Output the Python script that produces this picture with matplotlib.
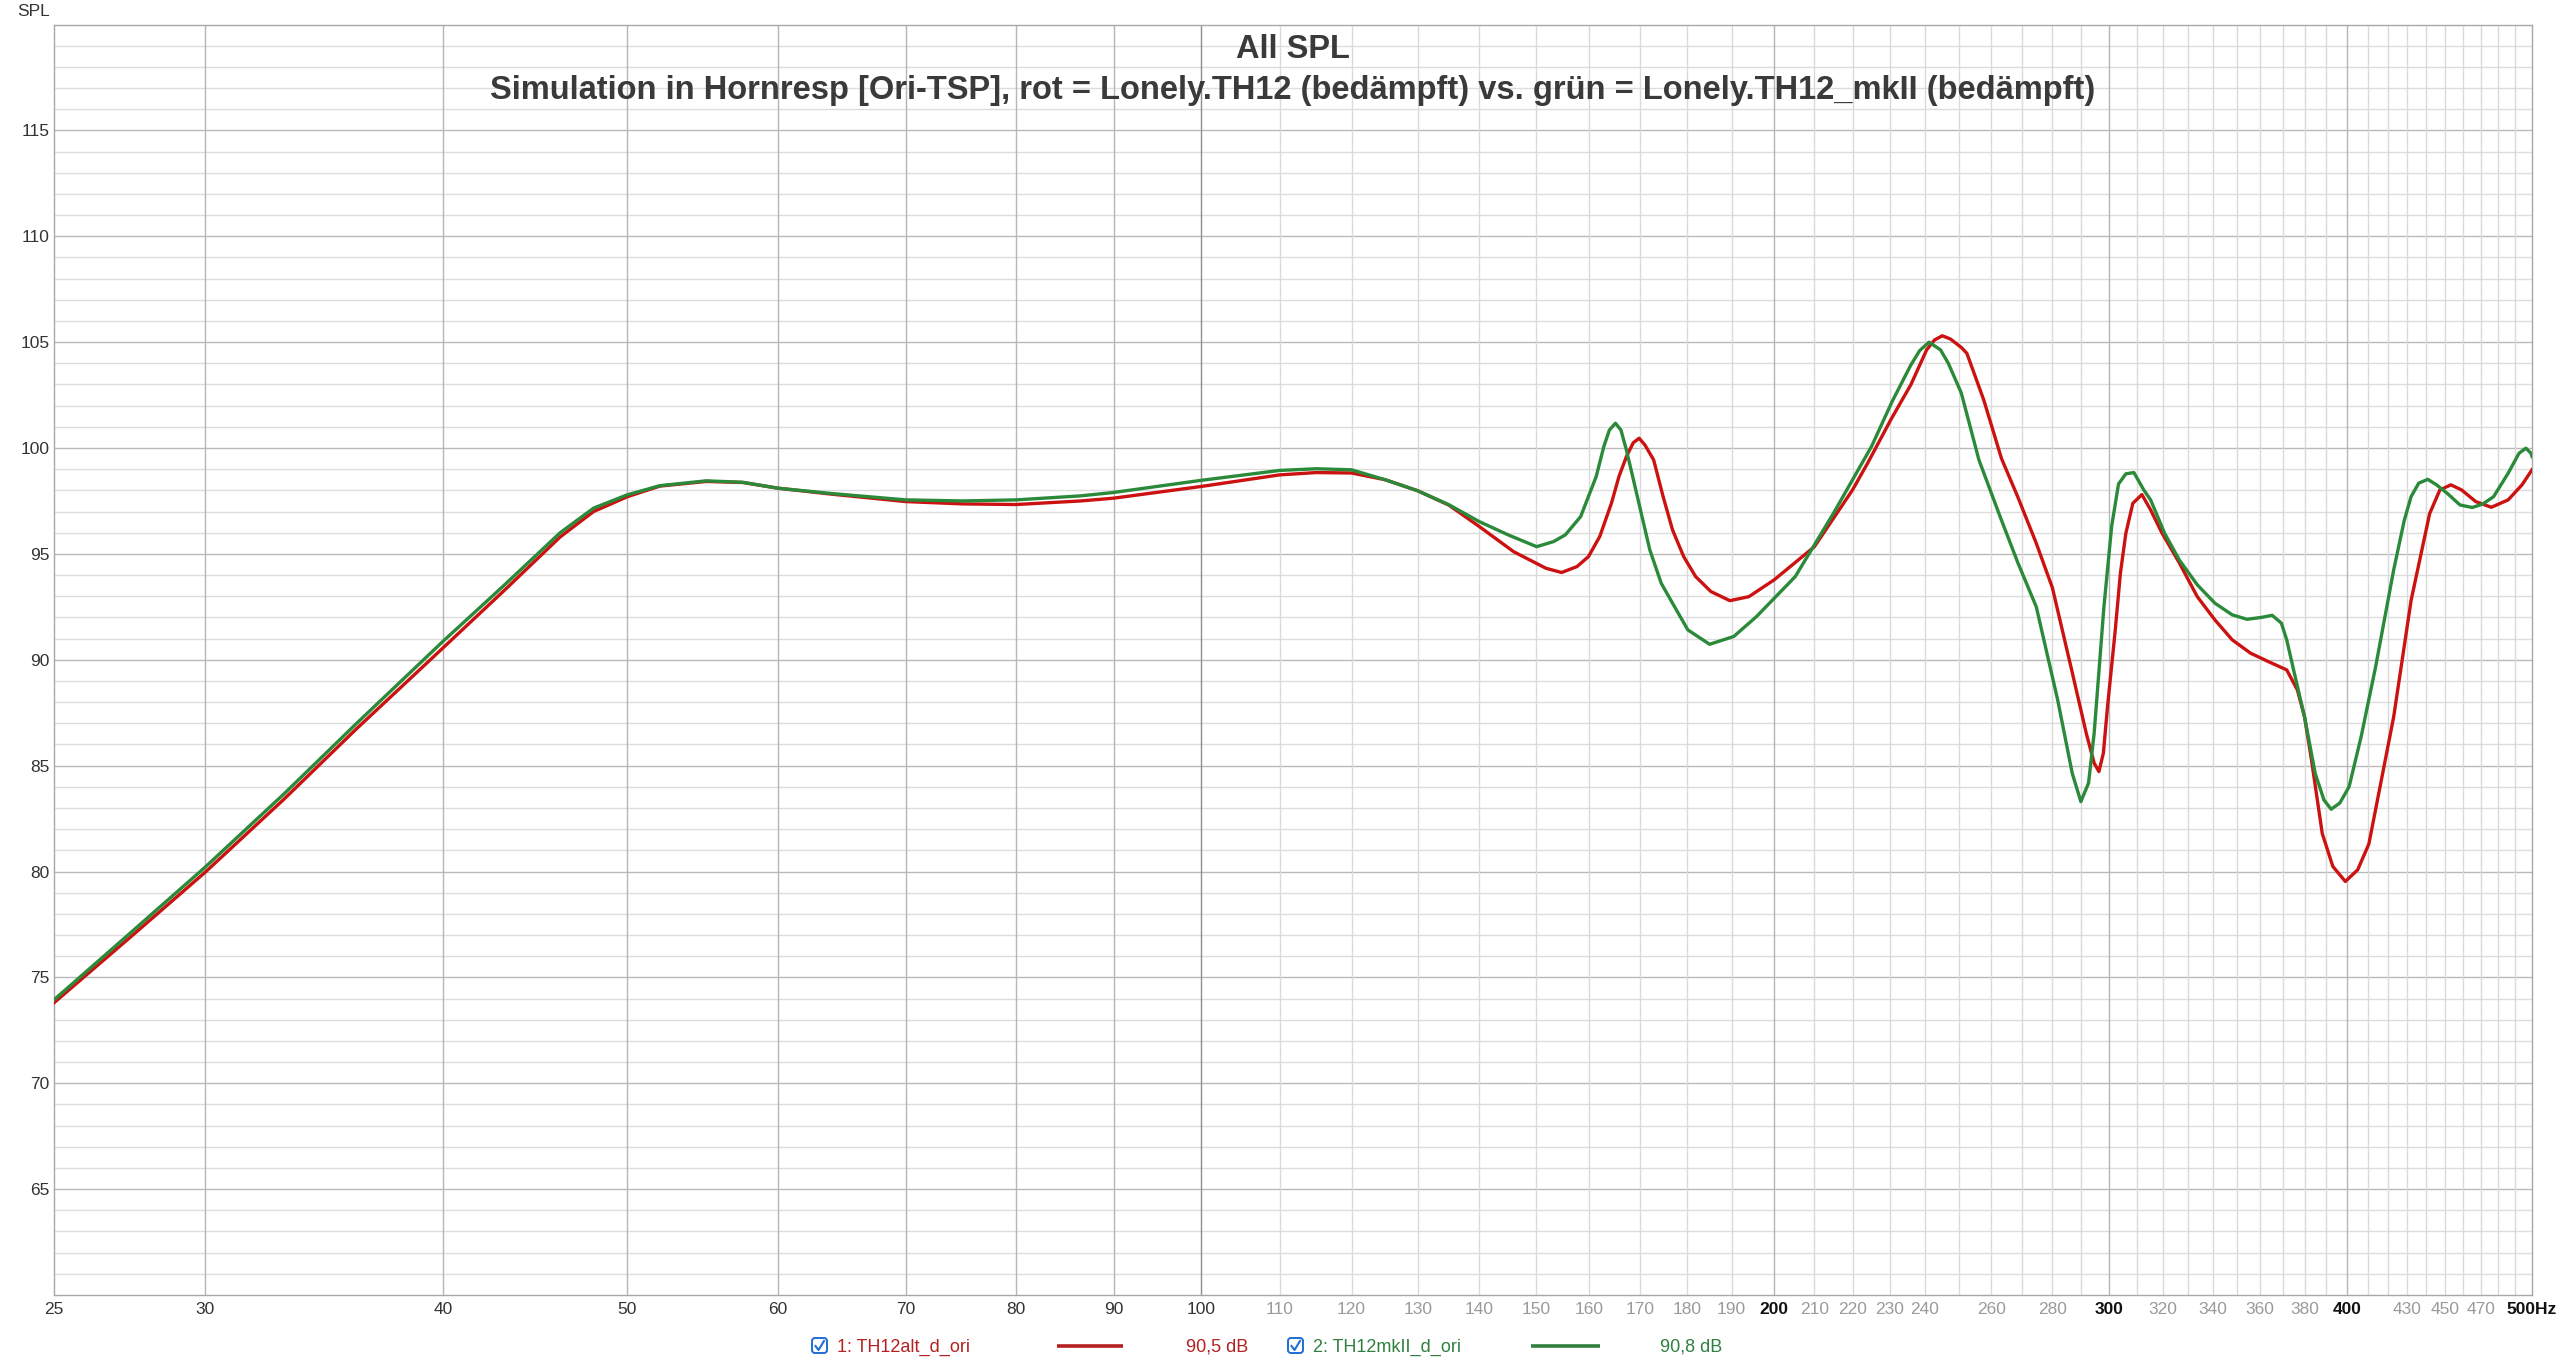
import numpy as np
import matplotlib.pyplot as plt
from matplotlib.patches import FancyBboxPatch
from matplotlib.ticker import NullLocator, NullFormatter

plt.rcParams['font.family'] = ['Liberation Sans', 'DejaVu Sans']

# rot = Lonely.TH12 (bedämpft)
red_freq = [25, 27.5, 30, 33, 36, 40, 43, 46.1, 48, 50, 52, 55, 57.5, 60, 64, 70, 75, 80, 86.5, 90,
            100, 110, 115, 120, 125, 130, 135, 140, 146, 151.8, 154.7, 157.6, 159.8, 162, 164.3,
            165.8, 167.3, 168.7, 169.9, 171.1, 172.9, 174.9, 176.9, 179.3, 181.9, 185.3, 189.6, 194,
            200, 210, 219.9, 224, 230.3, 236, 240.5, 242.8, 245.1, 247.5, 250.8, 252.5, 257.7, 263.3,
            268.5, 274.6, 280, 286.8, 291.7, 294.5, 296.2, 297.8, 299.3, 302, 304, 306, 308.6, 312,
            315.3, 319.6, 326.5, 333.6, 340.8, 348, 355.8, 363.8, 371.7, 376.5, 379.8, 383, 388, 393,
            399, 405, 410.5, 415.8, 423, 432, 441.8, 447.3, 453.3, 459.2, 467.1, 476, 485.8, 494, 500]
red_spl = [73.8, 77.0, 79.95, 83.4, 86.7, 90.55, 93.2, 95.8, 97.0, 97.7, 98.2, 98.42, 98.37, 98.1, 97.82,
           97.47, 97.36, 97.33, 97.5, 97.63, 98.18, 98.73, 98.84, 98.82, 98.5, 97.98, 97.3, 96.3, 95.1,
           94.32, 94.12, 94.4, 94.87, 95.82, 97.39, 98.65, 99.59, 100.25, 100.46, 100.14, 99.44, 97.7,
           96.13, 94.87, 93.93, 93.22, 92.79, 92.98, 93.77, 95.34, 98.02, 99.3, 101.33, 103.0, 104.63,
           105.1, 105.3, 105.15, 104.75, 104.47, 102.27, 99.5, 97.7, 95.5, 93.4, 89.4, 86.53, 85.12,
           84.72, 85.59, 87.79, 91.25, 94.09, 95.97, 97.39, 97.8, 97.08, 96.0, 94.56, 92.98, 91.88,
           90.94, 90.31, 89.9, 89.52, 88.58, 87.3, 85.27, 81.8, 80.24, 79.53, 80.08, 81.3, 83.86, 87.3,
           92.8, 96.9, 98.02, 98.26, 98.02, 97.47, 97.2, 97.55, 98.26, 98.97]

# grün = Lonely.TH12_mkII (bedämpft)
green_freq = [25, 27.5, 30, 33, 36, 40, 43, 46.1, 48, 50, 52, 55, 57.5, 60, 64, 70, 75, 80, 86.5, 90,
              100, 110, 115, 120, 125, 130, 135, 140, 145, 150.1, 153.2, 155.4, 158.3, 161.3, 162.8,
              163.9, 165.1, 166.2, 167.3, 168.9, 172.1, 174.5, 176.9, 180.2, 185, 190.5, 195.8, 205.2,
              214.9, 225, 230.7, 235.9, 238.5, 241.2, 244.6, 246.9, 250.8, 256.2, 263, 268.5, 274.6,
              281.8, 286.8, 289.8, 292.5, 294.5, 298, 300.8, 303.3, 306, 309, 312.7, 315.3, 320.7,
              326.5, 333.6, 340.8, 348, 354.3, 360.5, 365.2, 369.3, 371.7, 374.8, 379.8, 384.7, 388.8,
              392.2, 396.3, 400.8, 406.7, 413.9, 423, 428.5, 432, 436, 440.8, 445.5, 451.3, 458.3,
              465.2, 471.2, 477.3, 485.8, 492.2, 496.3, 499.4, 500]
green_spl = [73.94, 77.2, 80.19, 83.65, 86.95, 90.86, 93.45, 96.0, 97.16, 97.79, 98.22, 98.45, 98.38,
             98.1, 97.85, 97.55, 97.5, 97.55, 97.74, 97.9, 98.47, 98.94, 99.02, 98.97, 98.5, 97.98,
             97.32, 96.53, 95.9, 95.34, 95.58, 95.9, 96.76, 98.65, 100.07, 100.85, 101.17, 100.85,
             99.91, 98.33, 95.19, 93.61, 92.67, 91.41, 90.73, 91.1, 92.04, 93.93, 96.92, 100.07, 102.2,
             103.9, 104.6, 105.0, 104.63, 104.0, 102.6, 99.44, 96.7, 94.6, 92.5, 88.1, 84.64, 83.3,
             84.17, 86.53, 92.5, 96.3, 98.3, 98.78, 98.84, 98.02, 97.55, 95.97, 94.7, 93.54, 92.67,
             92.12, 91.91, 92.0, 92.1, 91.73, 90.94, 89.52, 87.3, 84.64, 83.38, 82.94, 83.23, 84.0,
             86.37, 89.68, 94.24, 96.6, 97.7, 98.34, 98.52, 98.26, 97.86, 97.31, 97.19, 97.36, 97.7,
             98.81, 99.75, 99.99, 99.75, 99.6]

x_ticks = [25, 30, 40, 50, 60, 70, 80, 90, 100, 110, 120, 130, 140, 150, 160, 170, 180, 190, 200,
           210, 220, 230, 240, 260, 280, 300, 320, 340, 360, 380, 400, 430, 450, 470, 500]
x_labels = [str(t) for t in x_ticks[:-1]] + ['500Hz']
y_ticks = [65, 70, 75, 80, 85, 90, 95, 100, 105, 110, 115]

title1 = 'All SPL'
title2 = ('Simulation in Hornresp [Ori-TSP], rot = Lonely.TH12 (bedämpft) vs. '
          'grün = Lonely.TH12_mkII (bedämpft)')
names = ['1: TH12alt_d_ori', '2: TH12mkII_d_ori']
levels = ['90,5 dB', '90,8 dB']
red = '#cc1111'
green = '#2a8a3a'

W, H = 2560, 1361
fig = plt.figure(figsize=(W / 100, H / 100), dpi=100)
ax = fig.add_axes([54 / W, 1 - 1295 / H, (2532 - 54) / W, (1295 - 24.5) / H])
ax.set_xscale('log')
ax.set_xlim(25, 500)
ax.set_ylim(60, 120)

# grid: 1 dB minor, 5 dB major; 10 Hz verticals
for v in range(61, 120):
    ax.axhline(v, color='#b9b9b9' if v % 5 == 0 else '#dddddd', lw=1.0, zorder=0)
for f in range(30, 500, 10):
    if f == 100:
        c = '#8e8e8e'
    elif f < 100 or f in (200, 300, 400):
        c = '#b6b6b6'
    else:
        c = '#dadada'
    ax.axvline(f, color=c, lw=1.0, zorder=0)

ax.plot(red_freq, red_spl, color=red, lw=2.4, zorder=3)
ax.plot(green_freq, green_spl, color=green, lw=2.4, zorder=4)

for s in ax.spines.values():
    s.set_color('#a8a8a8')
    s.set_linewidth(1.0)

ax.xaxis.set_minor_locator(NullLocator())
ax.xaxis.set_minor_formatter(NullFormatter())
ax.set_xticks(x_ticks)
ax.set_xticklabels(x_labels)
ax.set_yticks(y_ticks)
ax.tick_params(length=0, labelsize=12.5, labelcolor='#333333')
ax.tick_params(axis='x', pad=5)
ax.tick_params(axis='y', pad=3)
for t, lab in zip(x_ticks, ax.get_xticklabels()):
    if t in (200, 300, 400, 500):
        lab.set_color('#111111')
        lab.set_fontweight('bold')
    elif t > 100:
        lab.set_color('#9a9a9a')

fig.text(50 / W, 1 - 11 / H, 'SPL', ha='right', va='center', fontsize=12.5, color='#333333')
fig.text(1293 / W, 1 - 49 / H, title1, ha='center', va='center', fontsize=23.5,
         fontweight='bold', color='#3a3a3a')
fig.text(1293 / W, 1 - 91 / H, title2, ha='center', va='center', fontsize=23.5,
         fontweight='bold', color='#3a3a3a')

# legend row along the bottom, in pixel coordinates
lg = fig.add_axes([0, 0, 1, 1], facecolor='none')
lg.set_xlim(0, W)
lg.set_ylim(H, 0)
lg.axis('off')
rows = [(812, 837, 1057, 1123, 1186, red, '#b52020'),
        (1288, 1313, 1531, 1600, 1660, green, '#2f8040')]
for (cb, tx, l0, l1, lv, col, tcol), name, level in zip(rows, names, levels):
    lg.add_patch(FancyBboxPatch((cb, 1338), 15, 15, boxstyle='round,pad=0,rounding_size=3',
                                fc='white', ec='#1f6fd6', lw=1.4))
    lg.plot([cb + 3.5, cb + 6.5, cb + 12], [1346, 1350, 1341], color='#1f6fd6', lw=1.5)
    lg.text(tx, 1347, name, ha='left', va='center', fontsize=13, color=tcol)
    lg.plot([l0, l1], [1346, 1346], color=tcol, lw=2.6, solid_capstyle='butt')
    lg.text(lv, 1347, level, ha='left', va='center', fontsize=13, color=tcol)

fig.savefig('out.png', dpi=100, facecolor='white')
